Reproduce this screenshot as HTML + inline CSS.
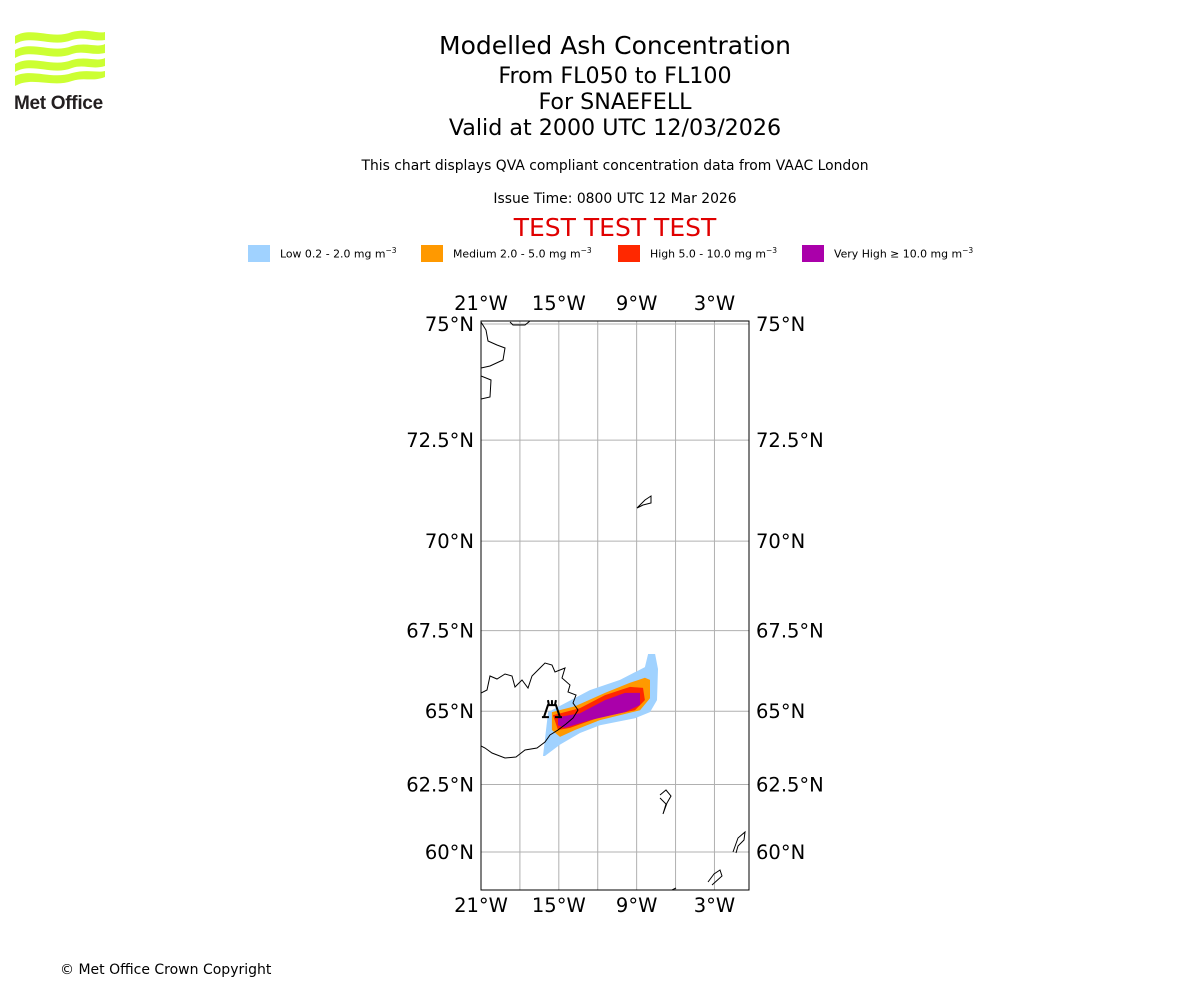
<!DOCTYPE html>
<html><head><meta charset="utf-8">
<style>
body{margin:0;background:#fff;font-family:"DejaVu Sans","Liberation Sans",sans-serif;}
#root{position:relative;width:1200px;height:1000px;overflow:hidden;}
.t{position:absolute;left:0;width:1230px;text-align:center;color:#000;white-space:nowrap;}
.lg{position:absolute;top:245px;height:17px;width:22px;}
.lt{position:absolute;top:246px;font-size:10.9px;white-space:nowrap;}
</style></head><body>
<div id="root">
<svg style="position:absolute;left:12px;top:28px" width="100" height="85">
 <g fill="#ccff33">
  <path d="M3,8 C20,-2 40,12 60,4 C75,0 85,6 93,4 L93,12 C80,14 72,8 60,12 C40,20 20,6 3,16Z"/>
  <path d="M3,22 C20,12 40,26 60,18 C75,14 85,20 93,16 L93,25 C80,28 72,22 60,26 C40,34 20,20 3,30Z"/>
  <path d="M3,36 C20,26 40,40 60,32 C75,28 85,34 93,30 L93,38 C80,42 72,36 60,40 C40,48 20,34 3,44Z"/>
  <path d="M3,48 C20,40 40,52 60,45 C75,41 85,45 93,43 L93,49 C80,54 72,49 60,53 C40,60 20,48 3,58Z"/>
 </g>
 <text x="2" y="81" font-family="Liberation Sans,sans-serif" font-weight="bold" font-size="19" fill="#231f20" letter-spacing="-0.3">Met Office</text>
</svg>
<div class="t" style="top:31px;font-size:25px">Modelled Ash Concentration</div>
<div class="t" style="top:63px;font-size:22.2px">From FL050 to FL100</div>
<div class="t" style="top:89px;font-size:22.2px">For SNAEFELL</div>
<div class="t" style="top:115px;font-size:22.2px">Valid at 2000 UTC 12/03/2026</div>
<div class="t" style="top:158px;font-size:13.9px">This chart displays QVA compliant concentration data from VAAC London</div>
<div class="t" style="top:191px;font-size:13.9px">Issue Time: 0800 UTC 12 Mar 2026</div>
<div class="t" style="top:213px;font-size:25px;color:#e00000">TEST TEST TEST</div>
<div class="lg" style="left:248px;background:#a0d2ff"></div>
<div class="lt" style="left:280px">Low 0.2 - 2.0 mg m<sup style="font-size:7.5px">−3</sup></div>
<div class="lg" style="left:421px;background:#ff9900"></div>
<div class="lt" style="left:453px">Medium 2.0 - 5.0 mg m<sup style="font-size:7.5px">−3</sup></div>
<div class="lg" style="left:618px;background:#ff2800"></div>
<div class="lt" style="left:650px">High 5.0 - 10.0 mg m<sup style="font-size:7.5px">−3</sup></div>
<div class="lg" style="left:802px;background:#aa00aa"></div>
<div class="lt" style="left:834px">Very High ≥ 10.0 mg m<sup style="font-size:7.5px">−3</sup></div>
<svg id="map" style="position:absolute;left:0;top:0" width="1200" height="1000"></svg>
<div style="position:absolute;left:60px;top:962px;font-size:14px">© Met Office Crown Copyright</div>
</div>
<script>
const lonTicks=[-21,-15,-9,-3];
const lonTickLabels=["21°W","15°W","9°W","3°W"];
const lonGrid=[-18,-15,-12,-9,-6,-3];
const latTicks=[75,72.5,70,67.5,65,62.5,60];
const latTickLabels=["75°N","72.5°N","70°N","67.5°N","65°N","62.5°N","60°N"];
const lowLon=[-16.22,-15.83,-12.6,-10.28,-8.36,-8.12,-7.58,-7.35,-7.43,-7.97,-9.13,-11.83,-13.37,-14.91,-16.07];
const lowLat=[63.5,64.97,65.68,66.0,66.4,66.8,66.8,66.34,65.36,64.97,64.77,64.54,64.28,63.89,63.5];
const medLon=[-15.53,-13.75,-11.44,-9.51,-8.36,-7.97,-7.97,-8.74,-11.83,-13.75,-14.91,-15.53];
const medLat=[64.97,65.16,65.59,65.91,66.07,66.0,65.42,65.03,64.71,64.38,64.15,64.38];
const highLon=[-15.45,-13.37,-11.44,-9.51,-8.51,-8.36,-9.13,-11.83,-14.14,-15.06];
const highLat=[64.87,65.1,65.52,65.78,65.75,65.36,65.03,64.8,64.45,64.38];
const vhLon=[-15.06,-13.37,-11.44,-9.9,-8.74,-8.74,-9.9,-12.6,-14.52,-15.06];
const vhLat=[64.8,64.93,65.36,65.59,65.59,65.2,64.97,64.71,64.45,64.54];
const volcanoLon=-15.53, volcanoLat=64.97;

const X0=481,X1=749,Y0=321,Y1=890;
const merc=l=>Math.log(Math.tan(Math.PI/4+l*Math.PI/360));
const xs=lon=>481+(lon+21)*12.97;
const ys=lat=>324+743*(merc(75)-merc(lat));
const NS="http://www.w3.org/2000/svg";
const svg=document.getElementById('map');
function mk(tag,attrs,parent){const e=document.createElementNS(NS,tag);for(const k in attrs)e.setAttribute(k,attrs[k]);(parent||svg).appendChild(e);return e;}
const cp=mk('clipPath',{id:'clip'});mk('rect',{x:X0,y:Y0,width:X1-X0,height:Y1-Y0},cp);
const g=mk('g',{'clip-path':'url(#clip)'});


lonGrid.forEach(l=>{const ln=mk('line',{x1:xs(l),x2:xs(l),y1:Y0,y2:Y1,stroke:'#b0b0b0','stroke-width':1},g);

});
latTicks.forEach(l=>{const ln=mk('line',{x1:X0,x2:X1,y1:ys(l),y2:ys(l),stroke:'#b0b0b0','stroke-width':1},g);

});
function poly(lons,lats,fill,name){const pts=lons.map((l,i)=>xs(l).toFixed(1)+','+ys(lats[i]).toFixed(1)).join(' ');
const p=mk('polygon',{points:pts,fill:fill},g);

}
poly(lowLon,lowLat,'#a0d2ff','ash-low');
poly(medLon,medLat,'#ff9900','ash-medium');
poly(highLon,highLat,'#ff2800','ash-high');
poly(vhLon,vhLat,'#aa00aa','ash-very-high');
const coasts=[
["iceland-coast","M481,693 L487,690 L490,676 L497,679 L505,674 L512,676 L515,687 L522,680 L528,688 L532,676 L540,668 L545,663 L552,665 L555,672 L565,668 L562,678 L570,685 L568,692 L576,695 L573,703 L578,710 L573,718 L566,724 L558,730 L550,735 L545,742 L537,748 L525,750 L516,757 L505,758 L492,753 L485,748 L481,746"],
["greenland-coast-1","M481,322 L486,330 L488,341 L497,345 L505,348 L503,360 L490,366 L481,368"],
["greenland-coast-2","M481,376 L491,380 L490,397 L481,399"],
["greenland-coast-3","M510,322 L513,325 L525,325 L530,321"],
["jan-mayen","M637,508 L645,500 L651,496 L651,503 L643,505 Z"],
["faroes","M660,795 L666,790 L671,796 L667,803 L663,814 L666,804 L660,798"],
["shetland","M733,852 L738,838 L745,832 L744,840 L738,846 L736,853"],
["scotland-coast","M708,882 L714,874 L720,870 L722,876 L712,885 M672,890 L676,888"]];
coasts.forEach(c=>{const p=mk('path',{d:c[1],fill:'none',stroke:'#000','stroke-width':1},g);

});
const vx=xs(volcanoLon),vy=ys(volcanoLat);
const vg=mk('g',{stroke:'#000','stroke-width':2,fill:'none'});


mk('path',{d:`M${vx-8},${vy+5} L${vx-4},${vy-7} L${vx+4},${vy-7} L${vx+8},${vy+5} M${vx-10},${vy+5} L${vx-3},${vy+5} M${vx+3},${vy+5} L${vx+10},${vy+5} M${vx-3},${vy-7} L${vx-4},${vy-12} M${vx},${vy-7} L${vx},${vy-12} M${vx+3},${vy-7} L${vx+4},${vy-12}`},vg);
const fr=mk('rect',{x:X0,y:Y0,width:X1-X0,height:Y1-Y0,fill:'none',stroke:'#000','stroke-width':1});


function txt(x,y,s,anchor,name){const t=mk('text',{x:x,y:y,'font-size':19.5,'text-anchor':anchor,'font-family':'DejaVu Sans, Liberation Sans, sans-serif'});t.textContent=s;

}
lonTicks.forEach((l,i)=>{txt(xs(l),310,lonTickLabels[i],'middle','lon-tick-label-top');txt(xs(l),912,lonTickLabels[i],'middle','lon-tick-label-bottom');});
latTicks.forEach((l,i)=>{txt(474,ys(l)+7,latTickLabels[i],'end','lat-tick-label-left');txt(756,ys(l)+7,latTickLabels[i],'start','lat-tick-label-right');});
</script>
</body></html>
